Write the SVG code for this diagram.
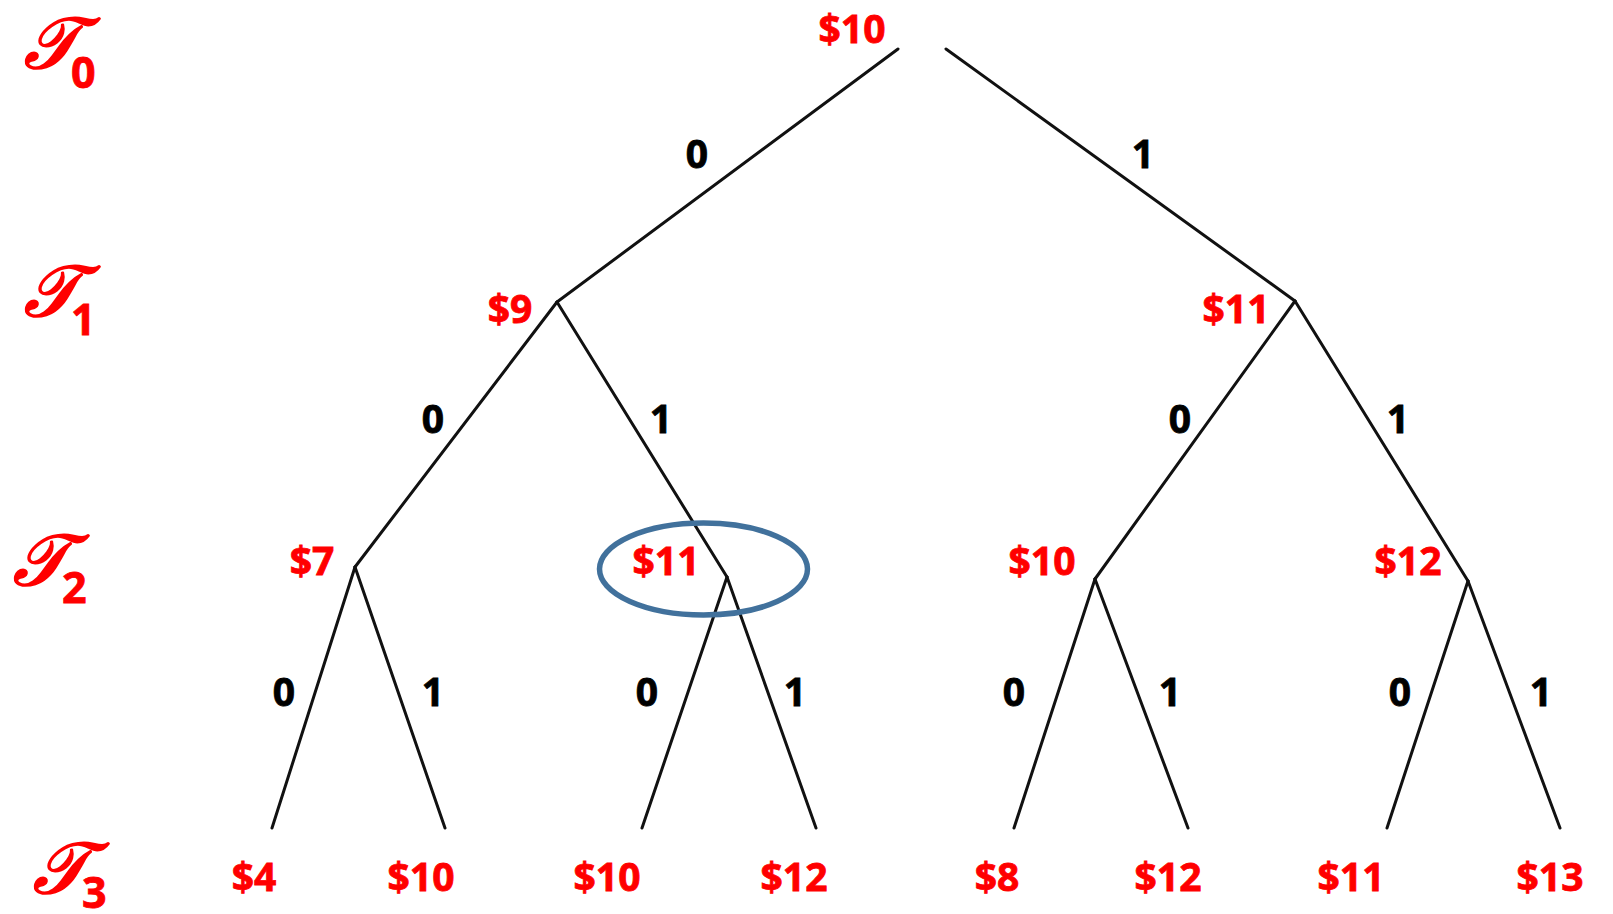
<svg xmlns="http://www.w3.org/2000/svg" width="1613" height="914" viewBox="0 0 1613 914">
<style>
.v{font-family:"Open Sans","Liberation Sans",sans-serif;font-weight:700;font-size:39px;fill:#ff0000;stroke:#ff0000;stroke-width:0.8;text-anchor:middle}
.e{font-family:"Open Sans","Liberation Sans",sans-serif;font-weight:700;font-size:39px;fill:#000;stroke:#000;stroke-width:0.8;text-anchor:middle}
.t{font-family:"DejaVu Serif","Liberation Serif",serif;font-style:italic;font-size:72px;fill:#ff0000;stroke:#ff0000;stroke-width:2.2;stroke-linejoin:round}
.s{font-family:"Open Sans","Liberation Sans",sans-serif;font-weight:700;font-size:43px;fill:#ff0000;stroke:#ff0000;stroke-width:0.8}
.ln{stroke:#111;stroke-width:3;fill:none;stroke-linecap:round}
</style>
<rect width="1613" height="914" fill="#fff"/>
<g id="levels">
<text class="t" x="24" y="68">𝒯</text><text class="s" x="71" y="88">0</text>
<text class="t" x="24" y="316">𝒯</text><text class="s" x="71" y="335">1</text>
<text class="t" x="13" y="585">𝒯</text><text class="s" x="62" y="603">2</text>
<text class="t" x="33" y="893">𝒯</text><text class="s" x="82" y="908">3</text>
</g>
<g id="connectors">
<path class="ln" d="M898,49 L557,302"/>
<path class="ln" d="M946,49 L1295,301"/>
<path class="ln" d="M557,302 L355,567"/>
<path class="ln" d="M557,302 L727,577"/>
<path class="ln" d="M1295,301 L1095,579"/>
<path class="ln" d="M1295,301 L1468,581"/>
<path class="ln" d="M355,567 L272,828"/>
<path class="ln" d="M355,567 L445,828"/>
<path class="ln" d="M727,577 L642,828"/>
<path class="ln" d="M727,577 L816,828"/>
<path class="ln" d="M1095,579 L1014,828"/>
<path class="ln" d="M1095,579 L1188,828"/>
<path class="ln" d="M1468,581 L1387,828"/>
<path class="ln" d="M1468,581 L1560,828"/>
</g>
<g id="edge-labels">
<text class="e" x="697" y="168">0</text>
<text class="e" x="1143" y="168">1</text>
<text class="e" x="433" y="433">0</text>
<text class="e" x="661" y="433">1</text>
<text class="e" x="1180" y="433">0</text>
<text class="e" x="1398" y="433">1</text>
<text class="e" x="284" y="706">0</text>
<text class="e" x="433" y="706">1</text>
<text class="e" x="647" y="706">0</text>
<text class="e" x="795" y="706">1</text>
<text class="e" x="1014" y="706">0</text>
<text class="e" x="1170" y="706">1</text>
<text class="e" x="1400" y="706">0</text>
<text class="e" x="1541" y="706">1</text>
</g>
<g id="n-root"><text class="v" x="852" y="43">$10</text></g>
<g id="n-0"><text class="v" x="510" y="323">$9</text></g>
<g id="n-1"><text class="v" x="1236" y="323">$11</text></g>
<g id="n-00"><text class="v" x="312" y="575">$7</text></g>
<g id="n-01"><text class="v" x="666" y="575">$11</text><ellipse cx="703.5" cy="569" rx="104" ry="46" fill="none" stroke="#41719c" stroke-width="5.5"/></g>
<g id="n-10"><text class="v" x="1042" y="575">$10</text></g>
<g id="n-11"><text class="v" x="1408" y="575">$12</text></g>
<g id="n-000"><text class="v" x="254" y="891">$4</text></g>
<g id="n-001"><text class="v" x="421" y="891">$10</text></g>
<g id="n-010"><text class="v" x="607" y="891">$10</text></g>
<g id="n-011"><text class="v" x="794" y="891">$12</text></g>
<g id="n-100"><text class="v" x="997" y="891">$8</text></g>
<g id="n-101"><text class="v" x="1168" y="891">$12</text></g>
<g id="n-110"><text class="v" x="1351" y="891">$11</text></g>
<g id="n-111"><text class="v" x="1550" y="891">$13</text></g>
</svg>
